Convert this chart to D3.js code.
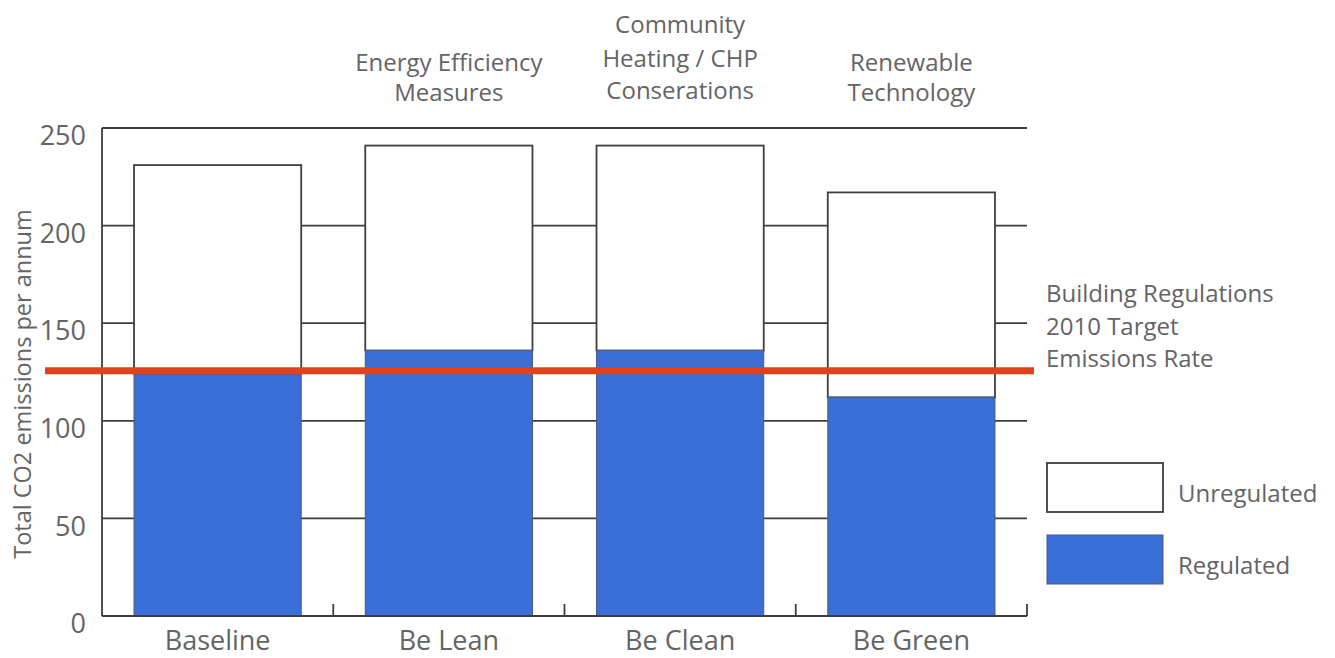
<!DOCTYPE html>
<html>
<head>
<meta charset="utf-8">
<script src="https://cdn.jsdelivr.net/npm/d3@7"></script>
<style>
  html, body { margin: 0; padding: 0; background: #fff; }
  svg { display: block; font-family: "Open Sans", "Noto Sans", sans-serif; }
</style>
</head>
<body>
<svg id="chart" width="1335" height="658"></svg>
<script>
// ---- data ----
const categories = ["Baseline", "Be Lean", "Be Clean", "Be Green"];
const regulated = [124, 136, 136, 112];
const unregulated = [107, 105, 105, 105];
const yTicks = [0, 50, 100, 150, 200, 250];
const stageLabels = [
  [],
  ["Energy Efficiency", "Measures"],
  ["Community", "Heating / CHP", "Conserations"],
  ["Renewable", "Technology"]
];
const targetValue = 125.7;
const targetLabel = ["Building Regulations", "2010 Target", "Emissions Rate"];
const seriesNames = ["Unregulated", "Regulated"];
const yTitle = "Total CO2 emissions per annum";

// ---- layout ----
const svg = d3.select("#chart");
const plot = { left: 102, right: 1027, top: 128, bottom: 616 };
const lineColor = "#3e3e3e";
const textColor = "#646464";
const blue = "#3a6fd8";
const red = "#e0421e";

const x = d3.scaleBand()
  .domain(categories)
  .range([plot.left, plot.right])
  .paddingInner(0.277)
  .paddingOuter(0.1385);

const y = d3.scaleLinear().domain([0, 250]).range([plot.bottom, plot.top]);

// gridlines (behind bars)
svg.append("g").selectAll("line")
  .data(yTicks.filter(d => d > 0))
  .join("line")
  .attr("x1", plot.left).attr("x2", plot.right)
  .attr("y1", d => y(d)).attr("y2", d => y(d))
  .attr("stroke", lineColor).attr("stroke-width", 1.8);

// y axis line
svg.append("line")
  .attr("x1", plot.left).attr("x2", plot.left)
  .attr("y1", y(250)).attr("y2", y(0))
  .attr("stroke", lineColor).attr("stroke-width", 1.8);

// y tick labels
const yAxis = d3.axisLeft(y).tickValues(yTicks).tickSize(0).tickPadding(16);
const gy = svg.append("g").attr("transform", `translate(${plot.left},0)`).call(yAxis);
gy.select(".domain").remove();
gy.selectAll("text")
  .attr("font-size", 27).attr("fill", textColor)
  .attr("font-family", "Open Sans, sans-serif")
  .attr("dy", "0.62em");

// bars
const barG = svg.append("g");
categories.forEach((c, i) => {
  const total = regulated[i] + unregulated[i];
  barG.append("rect")
    .attr("x", x(c)).attr("width", x.bandwidth())
    .attr("y", y(total)).attr("height", y(regulated[i]) - y(total))
    .attr("fill", "#fff").attr("stroke", lineColor).attr("stroke-width", 1.8);
  barG.append("rect")
    .attr("x", x(c)).attr("width", x.bandwidth())
    .attr("y", y(regulated[i])).attr("height", y(0) - y(regulated[i]))
    .attr("fill", blue).attr("stroke", "#4a5a80").attr("stroke-width", 1);
});

// bottom axis with upward ticks at band boundaries
svg.append("line")
  .attr("x1", plot.left).attr("x2", plot.right)
  .attr("y1", y(0)).attr("y2", y(0))
  .attr("stroke", lineColor).attr("stroke-width", 1.8);
const step = x.step();
svg.append("g").selectAll("line")
  .data(categories)
  .join("line")
  .attr("x1", d => x(d) + x.bandwidth() + (step - x.bandwidth()) / 2)
  .attr("x2", d => x(d) + x.bandwidth() + (step - x.bandwidth()) / 2)
  .attr("y1", y(0)).attr("y2", y(0) - 12)
  .attr("stroke", lineColor).attr("stroke-width", 1.8);

// category labels
svg.append("g").selectAll("text")
  .data(categories)
  .join("text")
  .attr("x", d => x(d) + x.bandwidth() / 2)
  .attr("y", 650)
  .attr("text-anchor", "middle")
  .attr("font-size", 27).attr("fill", textColor)
  .text(d => d);

// stage labels above bars
categories.forEach((c, i) => {
  const lines = stageLabels[i];
  const n = lines.length;
  const baselines = n === 3 ? [33, 67, 99] : [71, 101];
  lines.forEach((t, j) => {
    svg.append("text")
      .attr("x", x(c) + x.bandwidth() / 2)
      .attr("y", baselines[j])
      .attr("text-anchor", "middle")
      .attr("font-size", 24).attr("fill", textColor)
      .text(t);
  });
});

// target line
svg.append("line")
  .attr("x1", 45).attr("x2", 1034)
  .attr("y1", y(targetValue)).attr("y2", y(targetValue))
  .attr("stroke", red).attr("stroke-width", 7);

// target label
targetLabel.forEach((t, j) => {
  svg.append("text")
    .attr("x", 1046).attr("y", 302 + j * 32.5)
    .attr("font-size", 24).attr("fill", textColor)
    .text(t);
});

// legend
const legend = svg.append("g");
const legendFills = ["#fff", blue];
const legendTop = [463, 535];
seriesNames.forEach((s, i) => {
  legend.append("rect")
    .attr("x", 1047).attr("y", legendTop[i])
    .attr("width", 116).attr("height", 49)
    .attr("fill", legendFills[i])
    .attr("stroke", i === 0 ? lineColor : "#4a5a80")
    .attr("stroke-width", i === 0 ? 1.8 : 1);
  legend.append("text")
    .attr("x", 1178).attr("y", legendTop[i] + 39)
    .attr("font-size", 24).attr("fill", textColor)
    .text(s);
});

// y title
svg.append("text")
  .attr("transform", "translate(31,384) rotate(-90)")
  .attr("text-anchor", "middle")
  .attr("font-size", 23.5).attr("fill", textColor)
  .text(yTitle);
</script>
</body>
</html>
